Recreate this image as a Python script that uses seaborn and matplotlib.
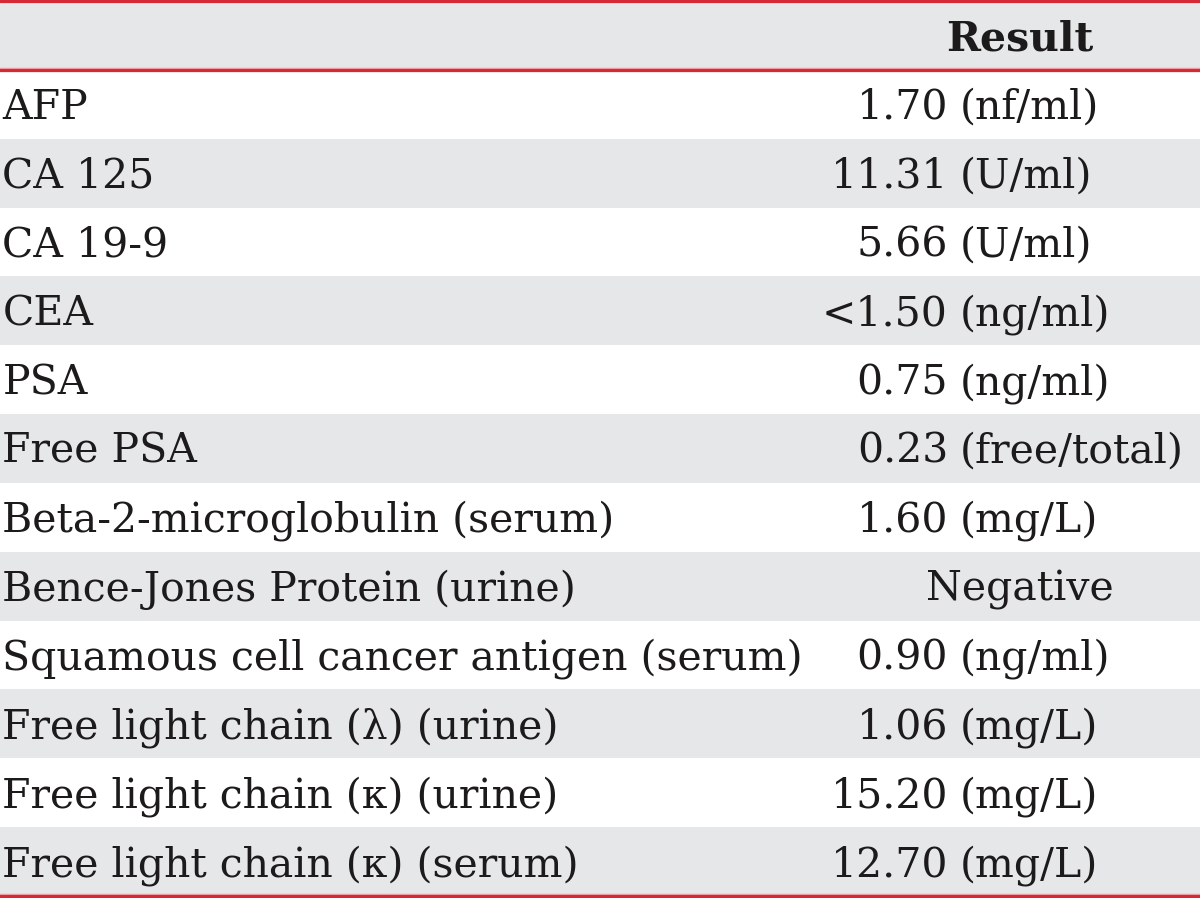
import matplotlib
matplotlib.use("Agg")
import matplotlib.pyplot as plt
from matplotlib.colors import ListedColormap
import seaborn as sns
import numpy as np
import pandas as pd

header = "Result"
tests = ["AFP", "CA 125", "CA 19-9", "CEA", "PSA", "Free PSA",
         "Beta-2-microglobulin (serum)", "Bence-Jones Protein (urine)",
         "Squamous cell cancer antigen (serum)", "Free light chain (\u03bb) (urine)",
         "Free light chain (\u03ba) (urine)", "Free light chain (\u03ba) (serum)"]
values = ["1.70", "11.31", "5.66", "<1.50", "0.75", "0.23", "1.60", "Negative",
          "0.90", "1.06", "15.20", "12.70"]
units = ["(nf/ml)", "(U/ml)", "(U/ml)", "(ng/ml)", "(ng/ml)", "(free/total)",
         "(mg/L)", "", "(ng/ml)", "(mg/L)", "(mg/L)", "(mg/L)"]

sns.set_theme(style="white")
plt.rcParams['font.family'] = ['DejaVu Serif']

gray = "#e6e7e9"
red = "#d52a36"
ink = "#1c1a1b"
fs = 29.5

# stripe pattern: header gray, then white/gray alternating
n = len(tests) + 1
shade = pd.DataFrame({"band": [1] + [i % 2 for i in range(len(tests))]})

fig = plt.figure(figsize=(12, 8.98), dpi=100)
ax = fig.add_axes([0, 0, 1, 1])
sns.heatmap(shade, cmap=ListedColormap(["white", gray]), cbar=False,
            xticklabels=False, yticklabels=False, ax=ax, vmin=0, vmax=1)
ax.set_ylim(n + 2.0 / 68.9, -1.0 / 68.9)
ax.set_xlim(0, 1)

for y in [0, 1, n]:
    ax.axhline(y, color="#f0a0a6", lw=3.2, zorder=3)
    ax.axhline(y, color=red, lw=2.2, zorder=4)

tr = ax.get_yaxis_transform()
base = 0.71
ax.text(0.85, base + 0.01, header, transform=tr, ha="center", va="baseline",
        fontsize=fs, fontweight="bold", color=ink)

for i, (t, v, u) in enumerate(zip(tests, values, units), start=1):
    y = i + base
    ax.text(0.002, y, t, transform=tr, ha="left", va="baseline", fontsize=fs, color=ink)
    if u:
        ax.text(0.790, y, v, transform=tr, ha="right", va="baseline", fontsize=fs, color=ink)
        ax.text(0.800, y, u, transform=tr, ha="left", va="baseline", fontsize=fs, color=ink)
    else:
        ax.text(0.85, y, v, transform=tr, ha="center", va="baseline", fontsize=fs, color=ink)

ax.axis("off")
fig.savefig("out.png", dpi=100)
